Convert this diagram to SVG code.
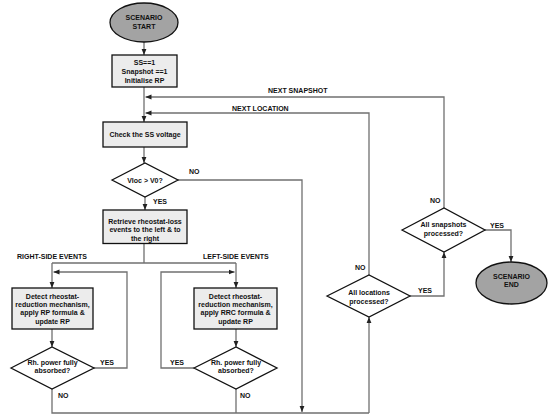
<svg xmlns="http://www.w3.org/2000/svg" width="550" height="419" viewBox="0 0 550 419">
<style>
.t{font-family:"Liberation Sans",Arial,sans-serif;font-size:7px;font-weight:bold;fill:#111;text-anchor:middle}
.l{font-family:"Liberation Sans",Arial,sans-serif;font-size:7px;font-weight:bold;fill:#111}
.box{fill:#ececec;stroke:#111;stroke-width:1.3}
.dia{fill:#fff;stroke:#111;stroke-width:1.3}
.term{fill:#a3a3a3;stroke:#111;stroke-width:1.3}
.c{fill:none;stroke:#707070;stroke-width:1.3}
.a{marker-end:url(#ah)}
</style>
<defs>
<marker id="ah" viewBox="0 0 10 10" refX="10" refY="5" markerWidth="6" markerHeight="6" markerUnits="userSpaceOnUse" orient="auto">
<path d="M0,1 L10,5 L0,9 z" fill="#222"/>
</marker>
</defs>
<rect width="550" height="419" fill="#fff"/>
<g id="connectors">
<path class="c a" d="M144,42 V55"/>
<path class="c a" d="M144,87 V122"/>
<path class="c a" d="M144,147 V163"/>
<path class="c a" d="M145,197 V210"/>
<path class="c" d="M144,243 V263 M52,263 H236"/>
<path class="c a" d="M52,263 V288"/>
<path class="c a" d="M236,263 V288"/>
<path class="c a" d="M52,329 V347"/>
<path class="c a" d="M236,329 V347"/>
<path class="c a" d="M94,368 H127 V272 H53.5"/>
<path class="c a" d="M194,368 H161 V272 H234.5"/>
<path class="c a" d="M178,180 H302 V412"/>
<path class="c" d="M52,389 V413 H369 M236,389 V413"/>
<path class="c a" d="M369,413 V317"/>
<path class="c a" d="M369,275 V113 H145.5"/>
<path class="c a" d="M410,296 H444 V252"/>
<path class="c a" d="M444,208 V97 H145.5"/>
<path class="c a" d="M485,230 H511 V262"/>
</g>
<g id="labels">
<text class="l" x="268" y="93">NEXT SNAPSHOT</text>
<text class="l" x="232" y="110.5">NEXT LOCATION</text>
<text class="l" x="189" y="174">NO</text>
<text class="l" x="153" y="204">YES</text>
<text class="l" x="17" y="259">RIGHT-SIDE EVENTS</text>
<text class="l" x="203" y="259">LEFT-SIDE EVENTS</text>
<text class="l" x="100" y="365">YES</text>
<text class="l" x="170" y="365">YES</text>
<text class="l" x="58" y="398">NO</text>
<text class="l" x="240" y="398">NO</text>
<text class="l" x="355" y="269.5">NO</text>
<text class="l" x="418" y="292.5">YES</text>
<text class="l" x="430" y="202.5">NO</text>
<text class="l" x="490" y="227.5">YES</text>
</g>
<g id="start">
<ellipse class="term" cx="144" cy="22.5" rx="34" ry="19.5"/>
<text class="t" x="144" y="19.5">SCENARIO</text>
<text class="t" x="144" y="28.5">START</text>
</g>
<g id="init">
<rect class="box" x="112" y="55" width="65" height="32"/>
<text class="t" x="144.5" y="64.5">SS==1</text>
<text class="t" x="144.5" y="73.5">Snapshot ==1</text>
<text class="t" x="144.5" y="82.5">Initialise RP</text>
</g>
<g id="check">
<rect class="box" x="103" y="122" width="84" height="25"/>
<text class="t" x="145" y="136.5">Check the SS voltage</text>
</g>
<g id="vloc">
<path class="dia" d="M112,180 L145,163 L178,180 L145,197 Z"/>
<text class="t" x="145" y="182.5">Vloc &gt; V0?</text>
</g>
<g id="retrieve">
<rect class="box" x="103" y="210" width="84" height="33.5"/>
<text class="t" x="145" y="223.5">Retrieve rheostat-loss</text>
<text class="t" x="145" y="232">events to the left &amp; to</text>
<text class="t" x="145" y="240.5">the right</text>
</g>
<g id="detect-right">
<rect class="box" x="12" y="288" width="81" height="41"/>
<text class="t" x="52.5" y="299.2">Detect rheostat-</text>
<text class="t" x="52.5" y="307.2">reduction mechanism,</text>
<text class="t" x="52.5" y="315.4">apply RP formula &amp;</text>
<text class="t" x="52.5" y="323.6">update RP</text>
</g>
<g id="absorbed-right">
<path class="dia" d="M11,368 L52,347 L94,368 L52,389 Z"/>
<text class="t" x="52.5" y="365.2">Rh. power fully</text>
<text class="t" x="52.5" y="373.2">absorbed?</text>
</g>
<g id="detect-left">
<rect class="box" x="194" y="288" width="83" height="41"/>
<text class="t" x="235.5" y="299.2">Detect rheostat-</text>
<text class="t" x="235.5" y="307.2">reduction mechanism,</text>
<text class="t" x="235.5" y="315.4">apply RRC formula &amp;</text>
<text class="t" x="235.5" y="323.6">update RP</text>
</g>
<g id="absorbed-left">
<path class="dia" d="M194,368 L236,347 L277,368 L236,389 Z"/>
<text class="t" x="236" y="365.2">Rh. power fully</text>
<text class="t" x="236" y="373.2">absorbed?</text>
</g>
<g id="locations">
<path class="dia" d="M327,296 L369,275 L410,296 L369,317 Z"/>
<text class="t" x="369" y="295.2">All locations</text>
<text class="t" x="369" y="304">processed?</text>
</g>
<g id="snapshots">
<path class="dia" d="M402,230 L444,208 L485,230 L444,252 Z"/>
<text class="t" x="443.5" y="227">All snapshots</text>
<text class="t" x="443.5" y="235.5">processed?</text>
</g>
<g id="end">
<ellipse class="term" cx="511.5" cy="283" rx="35.5" ry="21"/>
<text class="t" x="511.5" y="278.5">SCENARIO</text>
<text class="t" x="511.5" y="287">END</text>
</g>
</svg>
